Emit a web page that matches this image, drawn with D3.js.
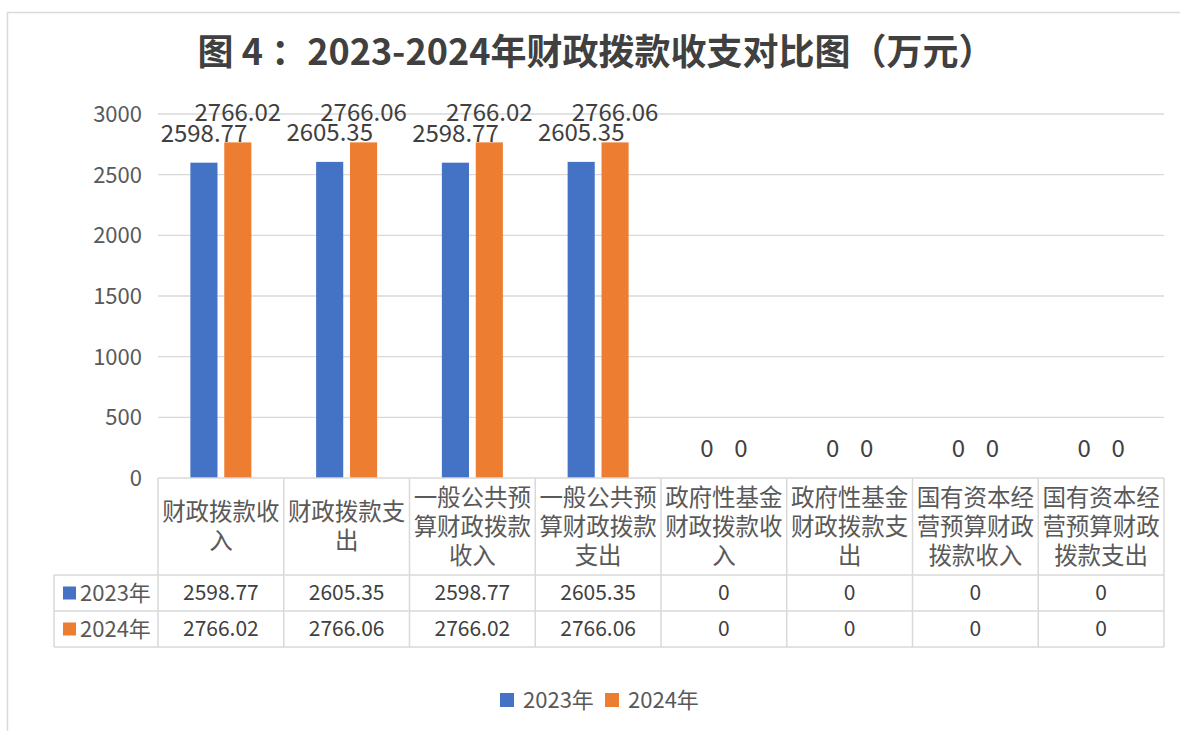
<!DOCTYPE html>
<html>
<head>
<meta charset="utf-8">
<script src="https://cdn.jsdelivr.net/npm/d3@7"></script>
<style>
  body { margin: 0; background: #fff; }
  text { font-family: "Noto Sans CJK SC", "Noto Sans", sans-serif; }
</style>
</head>
<body>
<div id="chart"></div>
<script>
const categories = [
    "财政拨款收入", "财政拨款支出", "一般公共预算财政拨款收入", "一般公共预算财政拨款支出",
    "政府性基金财政拨款收入", "政府性基金财政拨款支出", "国有资本经营预算财政拨款收入", "国有资本经营预算财政拨款支出"];
const seriesNames = ["2023年", "2024年"];
const values2023 = [2598.77, 2605.35, 2598.77, 2605.35, 0, 0, 0, 0];
const values2024 = [2766.02, 2766.06, 2766.02, 2766.06, 0, 0, 0, 0];
const yTicks = [0, 500, 1000, 1500, 2000, 2500, 3000];
const colors = ["#4472C4", "#ED7D31"];

const width = 1180, height = 731;
const plot = { left: 158, right: 1164, top: 114, bottom: 478 };

const svg = d3.select("#chart").append("svg")
    .attr("width", width)
    .attr("height", height);

// chart frame
svg.append("rect")
    .attr("x", 7.5).attr("y", 12.5)
    .attr("width", 1200).attr("height", 800)
    .attr("fill", "none").attr("stroke", "#d9d9d9").attr("stroke-width", 1.5);

svg.append("text")
    .attr("x", 596).attr("y", 65)
    .attr("text-anchor", "middle")
    .attr("font-size", 36).attr("font-weight", "bold")
    .attr("fill", "#404040")
    .text("图 4 ：2023-2024年财政拨款收支对比图（万元）");

const series = seriesNames.map((name, i) => ({ name, values: i === 0 ? values2023 : values2024, color: colors[i] }));

const x0 = d3.scaleBand().domain(categories).range([plot.left, plot.right]);
const x1 = d3.scaleBand().domain(seriesNames).range([-30.5, 30.5]).paddingInner(0.2);
const y = d3.scaleLinear().domain([0, 3000]).range([plot.bottom, plot.top]);

// gridlines
svg.append("g")
    .selectAll("line")
    .data(yTicks.filter(d => d > 0))
    .join("line")
    .attr("x1", plot.left).attr("x2", plot.right)
    .attr("y1", d => y(d)).attr("y2", d => y(d))
    .attr("stroke", "#d9d9d9").attr("stroke-width", 1.3);

// y axis labels
svg.append("g")
    .selectAll("text")
    .data(yTicks)
    .join("text")
    .attr("x", 142).attr("y", d => y(d) + 8)
    .attr("text-anchor", "end")
    .attr("font-size", 22)
    .attr("fill", "#595959")
    .text(d => d);

// bars
const groups = svg.append("g")
    .selectAll("g")
    .data(categories)
    .join("g")
    .attr("transform", d => `translate(${x0(d) + x0.bandwidth() / 2},0)`);

groups.selectAll("rect")
    .data((c, i) => series.map(s => ({ name: s.name, value: s.values[i], color: s.color })))
    .join("rect")
    .attr("x", d => x1(d.name))
    .attr("y", d => y(d.value))
    .attr("width", x1.bandwidth())
    .attr("height", d => y(0) - y(d.value))
    .attr("fill", d => d.color);

groups.selectAll("text")
    .data((c, i) => series.map(s => ({ name: s.name, value: s.values[i] })))
    .join("text")
    .attr("x", d => x1(d.name) + x1.bandwidth() / 2)
    .attr("y", d => y(d.value) - 21)
    .attr("text-anchor", "middle")
    .attr("font-size", 24)
    .attr("fill", "#404040")
    .text(d => d.value);

// data table
const rowTop = plot.bottom, headBottom = 575, rowH = 36;
const tableLeft = 54;
const grid = svg.append("g").attr("stroke", "#d9d9d9").attr("stroke-width", 1.5);

[headBottom, headBottom + rowH, headBottom + 2 * rowH].forEach(yy => {
    grid.append("line").attr("x1", tableLeft).attr("x2", plot.right).attr("y1", yy).attr("y2", yy);
});
grid.append("line").attr("x1", plot.left).attr("x2", plot.right).attr("y1", rowTop).attr("y2", rowTop);
grid.append("line").attr("x1", tableLeft).attr("x2", tableLeft).attr("y1", headBottom).attr("y2", headBottom + 2 * rowH);
categories.forEach(c => {
    grid.append("line").attr("x1", x0(c)).attr("x2", x0(c)).attr("y1", rowTop).attr("y2", headBottom + 2 * rowH);
});
grid.append("line").attr("x1", plot.right).attr("x2", plot.right).attr("y1", rowTop).attr("y2", headBottom + 2 * rowH);

// header labels, wrapped 5 chars per line
const lineH = 29;
categories.forEach(c => {
    const lines = [];
    for (let i = 0; i < c.length; i += 5) lines.push(c.slice(i, i + 5));
    const cy = (rowTop + headBottom) / 2 - (lines.length - 1) * lineH / 2;
    const t = svg.append("text")
        .attr("text-anchor", "middle")
        .attr("font-size", 23.5)
        .attr("fill", "#595959");
    lines.forEach((l, j) => {
        t.append("tspan")
            .attr("x", x0(c) + x0.bandwidth() / 2)
            .attr("y", cy + j * lineH + 8)
            .text(l);
    });
});

// value rows
series.forEach((s, i) => {
    const cy = headBottom + i * rowH + rowH / 2;
    svg.append("rect")
        .attr("x", 63).attr("y", cy - 6.5)
        .attr("width", 13).attr("height", 13)
        .attr("fill", s.color);
    svg.append("text")
        .attr("x", 80).attr("y", cy + 8)
        .attr("font-size", 22)
        .attr("fill", "#595959")
        .text(s.name);
    svg.append("g")
        .selectAll("text")
        .data(categories)
        .join("text")
        .attr("x", d => x0(d) + x0.bandwidth() / 2)
        .attr("y", cy + 7)
        .attr("text-anchor", "middle")
        .attr("font-size", 21)
        .attr("fill", "#404040")
        .text((d, k) => s.values[k]);
});

// legend
const legend = svg.append("g").attr("transform", "translate(500,700)");
series.forEach((s, i) => {
    const g = legend.append("g").attr("transform", `translate(${i * 105},0)`);
    g.append("rect")
        .attr("x", 0).attr("y", -7)
        .attr("width", 14).attr("height", 14)
        .attr("fill", s.color);
    g.append("text")
        .attr("x", 23).attr("y", 8)
        .attr("font-size", 22)
        .attr("fill", "#595959")
        .text(s.name);
});
</script>
</body>
</html>
